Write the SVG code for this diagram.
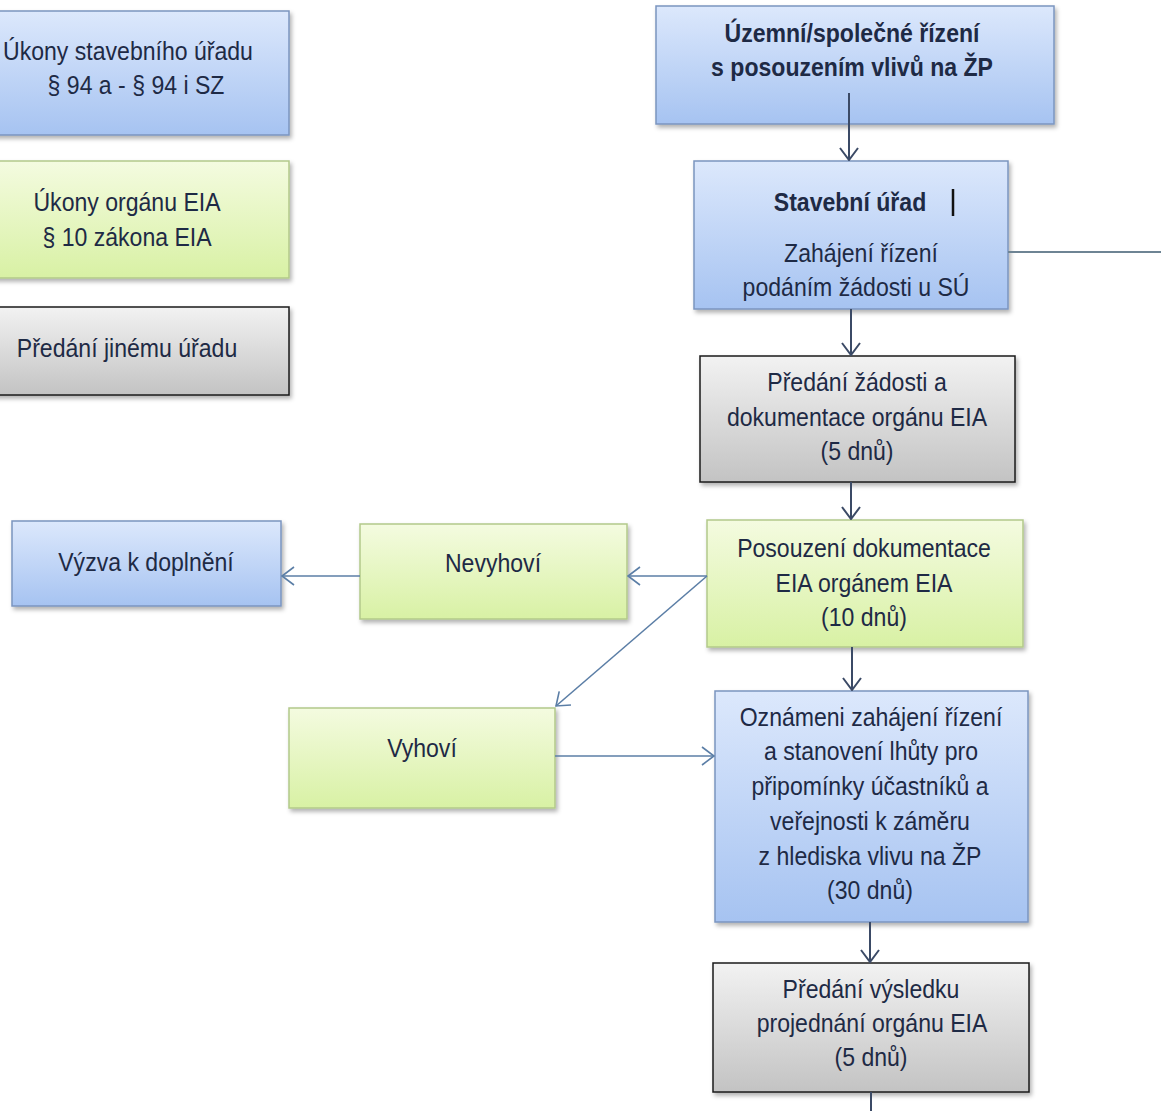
<svg xmlns="http://www.w3.org/2000/svg" width="1161" height="1111" viewBox="0 0 1161 1111">
<defs>
<linearGradient id="gBlue" x1="0" y1="0" x2="0" y2="1"><stop offset="0" stop-color="#dce8fc"/><stop offset="1" stop-color="#a6c3f1"/></linearGradient>
<linearGradient id="gGreen" x1="0" y1="0" x2="0" y2="1"><stop offset="0" stop-color="#f4fbe0"/><stop offset="1" stop-color="#d8f1a4"/></linearGradient>
<linearGradient id="gGray" x1="0" y1="0" x2="0" y2="1"><stop offset="0" stop-color="#f2f2f2"/><stop offset="1" stop-color="#c3c3c3"/></linearGradient>
<filter id="sh" x="-10%" y="-10%" width="130%" height="140%"><feDropShadow dx="2" dy="3" stdDeviation="2" flood-color="#000" flood-opacity="0.3"/></filter>
<marker id="ahd" viewBox="0 0 14 20" refX="13" refY="10" markerWidth="14" markerHeight="20" markerUnits="userSpaceOnUse" orient="auto"><path d="M1,1 L13,10 L1,19" fill="none" stroke="#3b4a66" stroke-width="2"/></marker>
<marker id="ahl" viewBox="0 0 14 20" refX="13" refY="10" markerWidth="14" markerHeight="20" markerUnits="userSpaceOnUse" orient="auto"><path d="M1,1 L13,10 L1,19" fill="none" stroke="#5b7ea6" stroke-width="1.6"/></marker>
</defs>
<style>
.blue{fill:url(#gBlue);stroke:#7b95bf;stroke-width:1.5;filter:url(#sh)}
.green{fill:url(#gGreen);stroke:#b3c98a;stroke-width:1.5;filter:url(#sh)}
.gray{fill:url(#gGray);stroke:#1a1a1a;stroke-width:1.5;filter:url(#sh)}
text{font-family:"Liberation Sans","Arial",sans-serif;font-size:26px;fill:#1e2a45;text-anchor:middle}
.b{font-weight:bold}
.dk{fill:none;stroke:#3b4a66;stroke-width:2}
.lt{fill:none;stroke:#5b7ea6;stroke-width:1.6}
</style>
<rect width="1161" height="1111" fill="#ffffff"/>
<g id="legend-su"><rect class="blue" x="-35" y="11" width="324" height="124"/><text transform="matrix(.887 0 0 1 128 0)" y="60">Úkony stavebního úřadu</text><text transform="matrix(.887 0 0 1 136 0)" y="94">§ 94 a - § 94 i SZ</text></g>
<g id="legend-eia"><rect class="green" x="-35" y="161" width="324" height="117"/><text transform="matrix(.887 0 0 1 127 0)" y="211">Úkony orgánu EIA</text><text transform="matrix(.887 0 0 1 127 0)" y="246">§ 10 zákona EIA</text></g>
<g id="legend-predani"><rect class="gray" x="-35" y="307" width="324" height="88"/><text transform="matrix(.887 0 0 1 127 0)" y="357">Předání jinému úřadu</text></g>
<g id="n-uzemni"><rect class="blue" x="656" y="6" width="398" height="118"/><text class="b" transform="matrix(.887 0 0 1 852 0)" y="42">Územní/společné řízení</text><text class="b" transform="matrix(.887 0 0 1 852 0)" y="76">s posouzením vlivů na ŽP</text></g>
<g id="n-su"><rect class="blue" x="694" y="161" width="314" height="148"/><text class="b" transform="matrix(.887 0 0 1 850 0)" y="211">Stavební úřad</text><line x1="953" y1="189" x2="953" y2="216" stroke="#111" stroke-width="2.5"/><text transform="matrix(.887 0 0 1 861 0)" y="262">Zahájení řízení</text><text transform="matrix(.887 0 0 1 856 0)" y="296">podáním žádosti u SÚ</text></g>
<g id="n-predani"><rect class="gray" x="700" y="356" width="315" height="126"/><text transform="matrix(.887 0 0 1 857 0)" y="391">Předání žádosti a</text><text transform="matrix(.887 0 0 1 857 0)" y="426">dokumentace orgánu EIA</text><text transform="matrix(.887 0 0 1 857 0)" y="460">(5 dnů)</text></g>
<g id="n-posouzeni"><rect class="green" x="707" y="520" width="316" height="127"/><text transform="matrix(.887 0 0 1 864 0)" y="557">Posouzení dokumentace</text><text transform="matrix(.887 0 0 1 864 0)" y="592">EIA orgánem EIA</text><text transform="matrix(.887 0 0 1 864 0)" y="626">(10 dnů)</text></g>
<g id="n-oznameni"><rect class="blue" x="715" y="691" width="313" height="231"/><text transform="matrix(.887 0 0 1 871 0)" y="726">Oznámeni zahájení řízení</text><text transform="matrix(.887 0 0 1 871 0)" y="760">a stanovení lhůty pro</text><text transform="matrix(.887 0 0 1 870 0)" y="795">připomínky účastníků a</text><text transform="matrix(.887 0 0 1 870 0)" y="830">veřejnosti k záměru</text><text transform="matrix(.887 0 0 1 870 0)" y="865">z hlediska vlivu na ŽP</text><text transform="matrix(.887 0 0 1 870 0)" y="899">(30 dnů)</text></g>
<g id="n-vysledek"><rect class="gray" x="713" y="963" width="316" height="129"/><text transform="matrix(.887 0 0 1 871 0)" y="998">Předání výsledku</text><text transform="matrix(.887 0 0 1 872 0)" y="1032">projednání orgánu EIA</text><text transform="matrix(.887 0 0 1 871 0)" y="1066">(5 dnů)</text></g>
<g id="n-vyzva"><rect class="blue" x="12" y="521" width="269" height="85"/><text transform="matrix(.887 0 0 1 146 0)" y="571">Výzva k doplnění</text></g>
<g id="n-nevyhovi"><rect class="green" x="360" y="524" width="267" height="95"/><text transform="matrix(.887 0 0 1 493 0)" y="572">Nevyhoví</text></g>
<g id="n-vyhovi"><rect class="green" x="289" y="708" width="266" height="100"/><text transform="matrix(.887 0 0 1 422 0)" y="757">Vyhoví</text></g>
<g id="connectors">
<line class="dk" x1="849" y1="93" x2="849" y2="160" marker-end="url(#ahd)"/>
<line class="dk" x1="851" y1="309" x2="851" y2="355" marker-end="url(#ahd)"/>
<line class="dk" x1="851" y1="482" x2="851" y2="519" marker-end="url(#ahd)"/>
<line class="dk" x1="852" y1="647" x2="852" y2="690" marker-end="url(#ahd)"/>
<line class="dk" x1="870" y1="922" x2="870" y2="962" marker-end="url(#ahd)"/>
<line class="dk" x1="871" y1="1092" x2="871" y2="1111"/>
<line x1="1008" y1="252" x2="1161" y2="252" stroke="#6e8494" stroke-width="2"/>
<line class="lt" x1="707" y1="576" x2="628" y2="576" marker-end="url(#ahl)"/>
<line class="lt" x1="360" y1="576" x2="282" y2="576" marker-end="url(#ahl)"/>
<line class="lt" x1="707" y1="576" x2="556" y2="706" marker-end="url(#ahl)"/>
<line class="lt" x1="555" y1="756" x2="714" y2="756" marker-end="url(#ahl)"/>
</g>
</svg>
